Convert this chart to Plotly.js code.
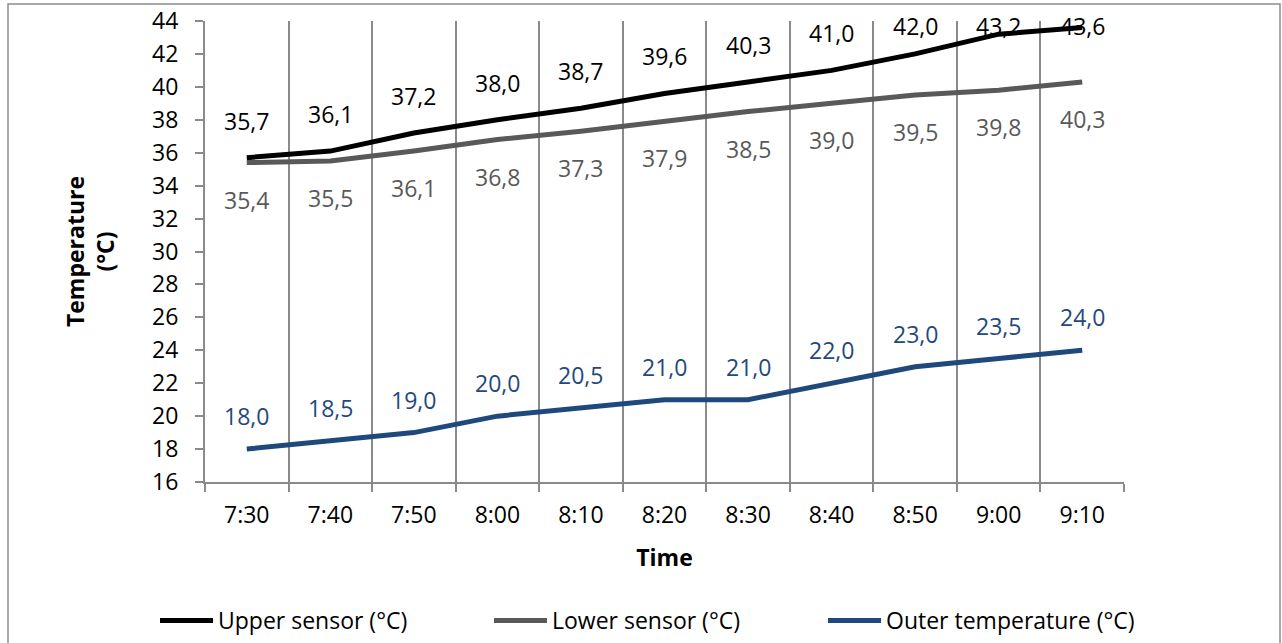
<!DOCTYPE html>
<html>
<head>
<meta charset="utf-8">
<script src="https://cdn.plot.ly/plotly-3.0.1.min.js"></script>
<style>html,body{margin:0;padding:0;background:#fff;}#chart{width:1282px;height:643px;}</style>
</head>
<body>
<div id="chart"></div>
<script>
const times = ['7:30','7:40','7:50','8:00','8:10','8:20','8:30','8:40','8:50','9:00','9:10'];
const upperSensor = [35.7,36.1,37.2,38.0,38.7,39.6,40.3,41.0,42.0,43.2,43.6];
const lowerSensor = [35.4,35.5,36.1,36.8,37.3,37.9,38.5,39.0,39.5,39.8,40.3];
const outerTemp = [18.0,18.5,19.0,20.0,20.5,21.0,21.0,22.0,23.0,23.5,24.0];
const seriesNames = ['Upper sensor (°C)','Lower sensor (°C)','Outer temperature (°C)'];
const yTicks = [16,18,20,22,24,26,28,30,32,34,36,38,40,42,44];

const colors = ['#000000','#595959','#1F497D'];
const FONT = 'Open Sans, sans-serif';
const FS = 23;
const W = 1282, H = 643;
const M = {l:205, r:158, t:21, b:161, autoexpand:false};
const plotW = W - M.l - M.r, plotH = H - M.t - M.b;
const yMin = 16, yMax = 44;
const unitPerPx = (yMax - yMin) / plotH;

function fmt(v){ return v.toFixed(1).replace('.', ','); }

const series = [upperSensor, lowerSensor, outerTemp];
const traces = series.map((s,i)=>({
  x: times, y: s, type:'scatter', mode:'lines', name: seriesNames[i],
  line:{color:colors[i], width:5}, hoverinfo:'skip'
}));

const offsetsPx = [37, -37, 33];
const annotations = [];
series.forEach((s,i)=>{
  s.forEach((v,j)=>{
    let yl = v + offsetsPx[i]*unitPerPx;
    if (yl > 43.7) yl = 43.7;
    annotations.push({x: times[j], y: yl, xref:'x', yref:'y', text: fmt(v), showarrow:false,
      xanchor:'center', yanchor:'middle', font:{family:FONT, size:FS, color:colors[i]}});
  });
});

// chart area border
const px2x = p => (p - M.l)/plotW;
const px2y = p => (H - M.b - p)/plotH;
const shapes = [{type:'rect', xref:'paper', yref:'paper', x0:px2x(8), x1:px2x(1280), y0:px2y(660), y1:px2y(4),
  line:{color:'#8c8c8c', width:1.5}, fillcolor:'rgba(0,0,0,0)', layer:'below'}];

const layout = {
  width:W, height:H, margin:M, paper_bgcolor:'#fff', plot_bgcolor:'#fff',
  font:{family:FONT, size:FS, color:'#000'},
  showlegend:true,
  legend:{orientation:'h', x:px2x(155), xanchor:'left', y:px2y(599), yanchor:'top',
    itemwidth:53, entrywidth:266, entrywidthmode:'pixels',
    font:{family:FONT, size:FS, color:'#000'}, bgcolor:'rgba(0,0,0,0)', tracegroupgap:0},
  xaxis:{type:'category', range:[-0.5, times.length-0.5], tickson:'boundaries', showgrid:true,
    gridcolor:'#8a8a8a', gridwidth:2, showline:true, linecolor:'#8a8a8a', linewidth:2,
    ticks:'outside', ticklen:8, tickcolor:'#8a8a8a', tickwidth:2, ticklabelstandoff:11,
    tickfont:{family:FONT, size:FS, color:'#000'}, zeroline:false, fixedrange:true,
    title:{text:'<b>Time</b>', font:{family:FONT, size:FS, color:'#000'}, standoff:21}},
  yaxis:{range:[yMin,yMax], tickvals:yTicks, ticktext:yTicks.map(String), showgrid:false,
    showline:true, linecolor:'#8a8a8a', linewidth:2, ticks:'outside', ticklen:8,
    tickcolor:'#8a8a8a', tickwidth:2, ticklabelstandoff:12, zeroline:false, fixedrange:true,
    tickfont:{family:FONT, size:FS, color:'#000'},
    title:{text:'<b>Temperature</b><br><b>(°C)</b>', font:{family:FONT, size:FS, color:'#000'}, standoff:31}},
  annotations: annotations,
  shapes: shapes
};
Plotly.newPlot('chart', traces, layout, {staticPlot:true, displayModeBar:false});
</script>
</body>
</html>
